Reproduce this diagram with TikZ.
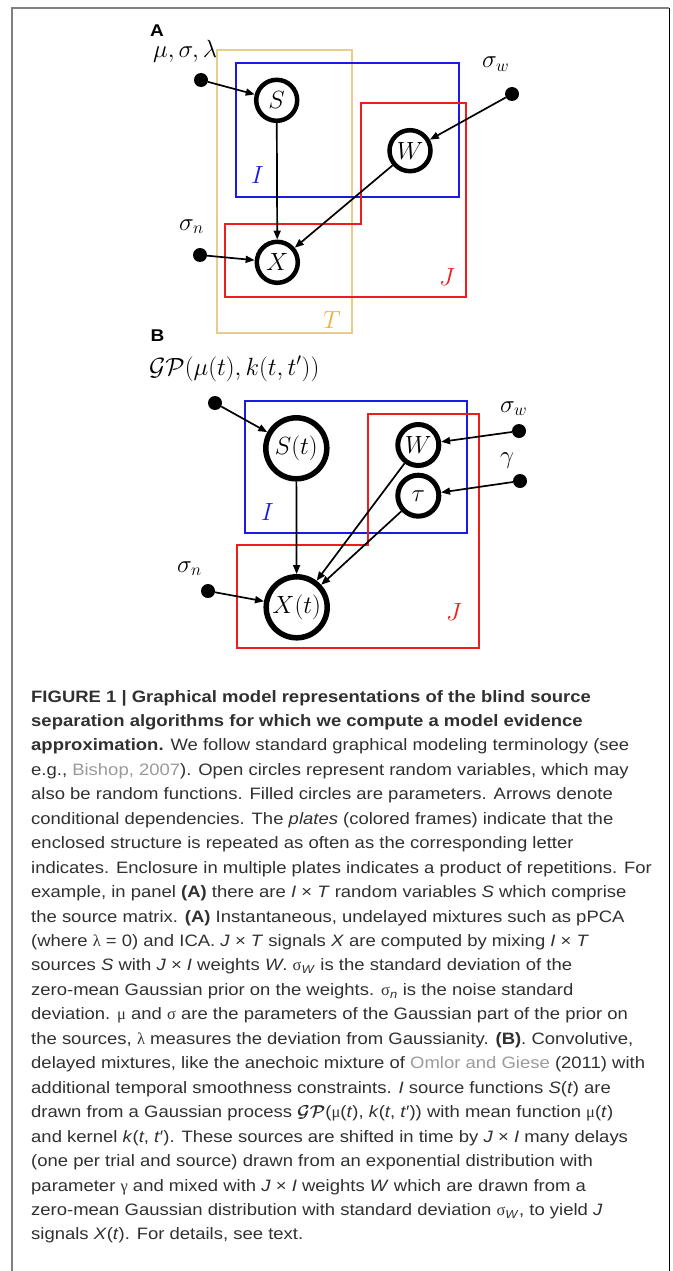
\documentclass[tikz,border=0pt]{standalone}
\usepackage{amsmath}
\usepackage{bm}
\usepackage{fontspec}
\usetikzlibrary{arrows.meta}
\newfontfamily\capfont[FakeStretch=1.12]{Liberation Sans}
\newfontfamily\grk{Liberation Serif}
\definecolor{citegray}{HTML}{9A9A9A}
\definecolor{captxt}{HTML}{303030}
\definecolor{plblue}{HTML}{1A1AE6}
\definecolor{plred}{HTML}{EE1C1C}
\definecolor{pltan}{HTML}{E6CD8A}
\definecolor{tlab}{HTML}{F2B03A}
\definecolor{framegray}{HTML}{808080}
\newcommand\capln[3]{\node[capt] (#1) at (31,{702+(#2-1)*24.45}) {#3};}
\newcommand\vi[1]{\textit{#1}}
\newcommand\gr[1]{{\grk #1}}
\begin{document}
\begin{tikzpicture}[x=1pt,y=-1pt,
  rv/.style={circle,draw,line width=4.5pt,minimum size=41pt,inner sep=0pt,font=\fontsize{24}{28}\selectfont},
  rvbig/.style={rv,line width=5.5pt,minimum size=61pt},
  par/.style={circle,fill,minimum size=14pt,inner sep=0pt},
  arr/.style={-{Triangle[length=9pt,width=7pt]},line width=1.7pt},
  plate/.style={line width=2pt},
  lab/.style={anchor=base west,inner sep=0pt,font=\fontsize{24}{28}\selectfont},
  panel/.style={anchor=base west,inner sep=0pt,font=\capfont\bfseries\fontsize{17}{20}\selectfont},
  capt/.style={anchor=base west,inner sep=0pt,text=captxt,font=\capfont\fontsize{16.5}{20}\selectfont}]
\useasboundingbox (0,0) rectangle (672,1271);
% frame
\draw[framegray,line width=1.6pt] (12,1271) -- (12,8) -- (669,8);
\draw[black,line width=0.8pt] (669,8) -- (669,1271);

% ---------- Panel A ----------
\node[panel] (Alab) at (150,36.5) {A};
\draw[plate,pltan] (217.3,50) rectangle (351.7,333.3);
\draw[plate,plblue] (236,63.3) rectangle (459,196.7);
\draw[plate,plred] (361,102.7) -- (466,102.7) -- (466,296.7) -- (225,296.7) -- (225,224.3) -- (361,224.3) -- cycle;

\node[rv] (S) at (276.7,100.3) {$S$};
\node[rv] (W) at (410,150.7) {$W$};
\node[rv] (X) at (277.3,262.3) {$X$};
\node[par] (mu) at (201,80) {};
\node[par] (sw) at (512,94) {};
\node[par] (sn) at (200,255) {};

\node[lab] (mulab) at (153,58) {$\mu,\sigma,\lambda$};
\node[lab] (swlab) at (482,68) {$\sigma_w$};
\node[lab] (snlab) at (179,230) {$\sigma_n$};
\node[lab,text=plblue] (Ilab) at (251,183) {$I$};
\node[lab,text=plred] (Jlab) at (439,285) {$J$};
\node[lab,text=tlab] (Tlab) at (323,328) {$T$};

\draw[arr] (mu) -- (S);
\draw[arr] (sw) -- (W);
\draw[arr] (sn) -- (X);
\draw[arr] (S) -- (X);
\draw[arr] (W) -- (X);

% ---------- Panel B ----------
\node[panel] (Blab) at (150.5,341.7) {B};
\draw[plate,plblue] (245,400.7) rectangle (467.3,533.3);
\draw[plate,plred] (367.7,414) -- (479,414) -- (479,647.7) -- (236.7,647.7) -- (236.7,545) -- (367.7,545) -- cycle;

\node[rvbig] (St) at (296.3,448.3) {$S(t)$};
\node[rvbig] (Xt) at (296.7,607.3) {$X(t)$};
\node[rv,line width=5pt] (Wb) at (418.3,445) {$W$};
\node[rv,line width=5pt] (tau) at (418.3,495.7) {$\tau$};
\node[par] (gp) at (215,403) {};
\node[par] (swb) at (519,431) {};
\node[par] (gam) at (520,481) {};
\node[par] (snb) at (208,591) {};

\node[lab] (gplab) at (149,375) {$\mathcal{GP}(\mu(t),k(t,t'))$};
\node[lab] (swblab) at (500,412) {$\sigma_w$};
\node[lab] (gamlab) at (500,463) {$\gamma$};
\node[lab] (snblab) at (177,572) {$\sigma_n$};
\node[lab,text=plblue] (Iblab) at (261,520) {$I$};
\node[lab,text=plred] (Jblab) at (446,620) {$J$};

\draw[arr] (gp) -- (St);
\draw[arr] (swb) -- (Wb);
\draw[arr] (gam) -- (tau);
\draw[arr] (snb) -- (Xt);
\draw[arr] (St) -- (Xt);
\draw[arr] (Wb) -- (Xt);
\draw[arr] (tau) -- (Xt);

% ---------- Caption ----------
\capln{l1}{1}{\bfseries FIGURE 1 | Graphical model representations of the blind source}
\capln{l2}{2}{\bfseries separation algorithms for which we compute a model evidence}
\capln{l3}{3}{\textbf{approximation.} We follow standard graphical modeling terminology (see}
\capln{l4}{4}{e.g., \textcolor{citegray}{Bishop, 2007}). Open circles represent random variables, which may}
\capln{l5}{5}{also be random functions. Filled circles are parameters. Arrows denote}
\capln{l6}{6}{conditional dependencies. The \vi{plates} (colored frames) indicate that the}
\capln{l7}{7}{enclosed structure is repeated as often as the corresponding letter}
\capln{l8}{8}{indicates. Enclosure in multiple plates indicates a product of repetitions. For}
\capln{l9}{9}{example, in panel \textbf{(A)} there are \vi{I} × \vi{T} random variables \vi{S} which comprise}
\capln{l10}{10}{the source matrix. \textbf{(A)} Instantaneous, undelayed mixtures such as pPCA}
\capln{l11}{11}{(where \gr{λ} = 0) and ICA. \vi{J} × \vi{T} signals \vi{X} are computed by mixing \vi{I} × \vi{T}}
\capln{l12}{12}{sources \vi{S} with \vi{J} × \vi{I} weights \vi{W}. \gr{σ}\textsubscript{\vi{W}} is the standard deviation of the}
\capln{l13}{13}{zero-mean Gaussian prior on the weights. \gr{σ}\textsubscript{\vi{n}} is the noise standard}
\capln{l14}{14}{deviation. \gr{μ} and \gr{σ} are the parameters of the Gaussian part of the prior on}
\capln{l15}{15}{the sources, \gr{λ} measures the deviation from Gaussianity. \textbf{(B)}. Convolutive,}
\capln{l16}{16}{delayed mixtures, like the anechoic mixture of \textcolor{citegray}{Omlor and Giese} (2011) with}
\capln{l17}{17}{additional temporal smoothness constraints. \vi{I} source functions \vi{S}(\vi{t}) are}
\capln{l18}{18}{drawn from a Gaussian process $\bm{\mathcal{GP}}$(\gr{μ}(\vi{t}), \vi{k}(\vi{t}, \vi{t}′)) with mean function \gr{μ}(\vi{t})}
\capln{l19}{19}{and kernel \vi{k}(\vi{t}, \vi{t}′). These sources are shifted in time by \vi{J} × \vi{I} many delays}
\capln{l20}{20}{(one per trial and source) drawn from an exponential distribution with}
\capln{l21}{21}{parameter \gr{γ} and mixed with \vi{J} × \vi{I} weights \vi{W} which are drawn from a}
\capln{l22}{22}{zero-mean Gaussian distribution with standard deviation \gr{σ}\textsubscript{\vi{W}}, to yield \vi{J}}
\capln{l23}{23}{signals \vi{X}(\vi{t}). For details, see text.}
\end{tikzpicture}
\end{document}
